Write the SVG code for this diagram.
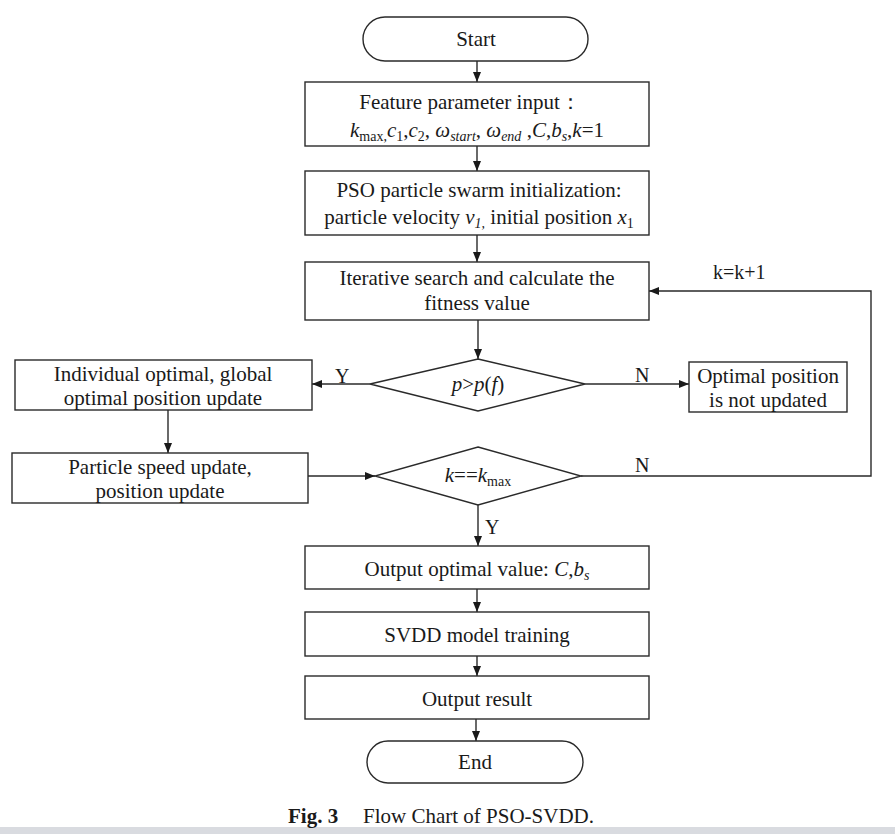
<svg xmlns="http://www.w3.org/2000/svg" width="895" height="834" viewBox="0 0 895 834">
<defs>
<marker id="ah" viewBox="0 0 10 10" refX="10" refY="5" markerWidth="10" markerHeight="10" markerUnits="userSpaceOnUse" orient="auto">
<path d="M0,1 L10,5 L0,9 Z" fill="#1a1a1a"/>
</marker>
<style>
.box{fill:#fff;stroke:#2a2a2a;stroke-width:1.4}
.ln{fill:none;stroke:#2a2a2a;stroke-width:1.4}
.t{font-family:"Liberation Serif","Times New Roman",serif;font-size:21px;fill:#1a1a1a;text-anchor:middle}
.i{font-style:italic}
.s{font-size:14px}
.lab{font-family:"Liberation Serif","Times New Roman",serif;font-size:20px;fill:#1a1a1a}
</style>
</defs>
<rect x="0" y="0" width="895" height="834" fill="#fff"/>
<rect x="0" y="827" width="895" height="7" fill="#d9dbe0"/>

<g id="connectors">
<line class="ln" x1="477" y1="61" x2="477" y2="82" marker-end="url(#ah)"/>
<line class="ln" x1="477" y1="146" x2="477" y2="171" marker-end="url(#ah)"/>
<line class="ln" x1="477" y1="235" x2="477" y2="262" marker-end="url(#ah)"/>
<line class="ln" x1="478" y1="320" x2="478" y2="359" marker-end="url(#ah)"/>
<line class="ln" x1="370" y1="384" x2="312" y2="384" marker-end="url(#ah)"/>
<line class="ln" x1="585" y1="384" x2="689" y2="384" marker-end="url(#ah)"/>
<line class="ln" x1="168" y1="410" x2="168" y2="453" marker-end="url(#ah)"/>
<line class="ln" x1="308" y1="476" x2="375" y2="476" marker-end="url(#ah)"/>
<polyline class="ln" points="581,476 871,476 871,291 649,291" marker-end="url(#ah)"/>
<line class="ln" x1="478" y1="505" x2="478" y2="546" marker-end="url(#ah)"/>
<line class="ln" x1="477" y1="589" x2="477" y2="612" marker-end="url(#ah)"/>
<line class="ln" x1="477" y1="656" x2="477" y2="676" marker-end="url(#ah)"/>
<line class="ln" x1="476" y1="719" x2="476" y2="741" marker-end="url(#ah)"/>
<text class="lab" x="335" y="383">Y</text>
<text class="lab" x="635" y="382">N</text>
<text class="lab" x="635" y="472">N</text>
<text class="lab" x="485" y="534">Y</text>
<text class="lab" x="713" y="279">k=k+1</text>
</g>

<g id="start">
<rect class="box" x="363" y="17" width="225" height="44" rx="22" ry="22"/>
<text class="t" x="476" y="46">Start</text>
</g>

<g id="feature">
<rect class="box" x="305" y="82" width="344" height="64"/>
<text class="t" x="470" y="109">Feature parameter input：</text>
<text class="t" x="477" y="137"><tspan class="i">k</tspan><tspan class="s" dy="4">max,</tspan><tspan class="i" dy="-4">c</tspan><tspan class="s" dy="4">1</tspan><tspan dy="-4">,</tspan><tspan class="i">c</tspan><tspan class="s" dy="4">2</tspan><tspan dy="-4">, </tspan><tspan class="i">ω</tspan><tspan class="s i" dy="4">start</tspan><tspan dy="-4">, </tspan><tspan class="i">ω</tspan><tspan class="s i" dy="4">end</tspan><tspan dy="-4"> ,</tspan><tspan class="i">C</tspan><tspan>,</tspan><tspan class="i">b</tspan><tspan class="s i" dy="4">s</tspan><tspan dy="-4">,</tspan><tspan class="i">k</tspan><tspan>=1</tspan></text>
</g>

<g id="pso">
<rect class="box" x="305" y="171" width="344" height="64"/>
<text class="t" x="479" y="197">PSO particle swarm initialization:</text>
<text class="t" x="479" y="224"><tspan>particle velocity </tspan><tspan class="i">v</tspan><tspan class="s i" dy="4">1,</tspan><tspan dy="-4"> initial position </tspan><tspan class="i">x</tspan><tspan class="s" dy="4">1</tspan></text>
</g>

<g id="iterative">
<rect class="box" x="305" y="262" width="344" height="58"/>
<text class="t" x="477" y="285">Iterative search and calculate the</text>
<text class="t" x="477" y="310">fitness value</text>
</g>

<g id="cond1">
<polygon class="box" points="478,359 585,384 478,411 370,384"/>
<text class="t" x="478" y="391"><tspan class="i">p</tspan><tspan>&gt;</tspan><tspan class="i">p</tspan><tspan>(</tspan><tspan class="i">f</tspan><tspan>)</tspan></text>
</g>

<g id="individual">
<rect class="box" x="15" y="360" width="297" height="50"/>
<text class="t" x="163" y="381">Individual optimal, global</text>
<text class="t" x="163" y="405">optimal position update</text>
</g>

<g id="notupdated">
<rect class="box" x="689" y="362" width="158" height="50"/>
<text class="t" x="768" y="383">Optimal position</text>
<text class="t" x="768" y="407">is not updated</text>
</g>

<g id="speed">
<rect class="box" x="12" y="453" width="296" height="50"/>
<text class="t" x="160" y="474">Particle speed update,</text>
<text class="t" x="160" y="498">position update</text>
</g>

<g id="cond2">
<polygon class="box" points="478,447 581,476 478,505 375,476"/>
<text class="t" x="478" y="482"><tspan class="i">k</tspan><tspan>==</tspan><tspan class="i">k</tspan><tspan class="s" dy="4">max</tspan></text>
</g>

<g id="output">
<rect class="box" x="305" y="546" width="344" height="43"/>
<text class="t" x="477" y="576"><tspan>Output optimal value: </tspan><tspan class="i">C</tspan><tspan>,</tspan><tspan class="i">b</tspan><tspan class="s i" dy="4">s</tspan></text>
</g>

<g id="svdd">
<rect class="box" x="305" y="612" width="344" height="44"/>
<text class="t" x="477" y="642">SVDD model training</text>
</g>

<g id="result">
<rect class="box" x="305" y="676" width="344" height="43"/>
<text class="t" x="477" y="706">Output result</text>
</g>

<g id="end">
<rect class="box" x="367" y="741" width="216" height="42" rx="21" ry="21"/>
<text class="t" x="475" y="769">End</text>
</g>

<text x="288" y="823" style="font-family:'Liberation Serif','Times New Roman',serif;font-size:21px;fill:#1a1a1a"><tspan font-weight="bold">Fig. 3</tspan><tspan x="363">Flow Chart of PSO-SVDD.</tspan></text>
</svg>
